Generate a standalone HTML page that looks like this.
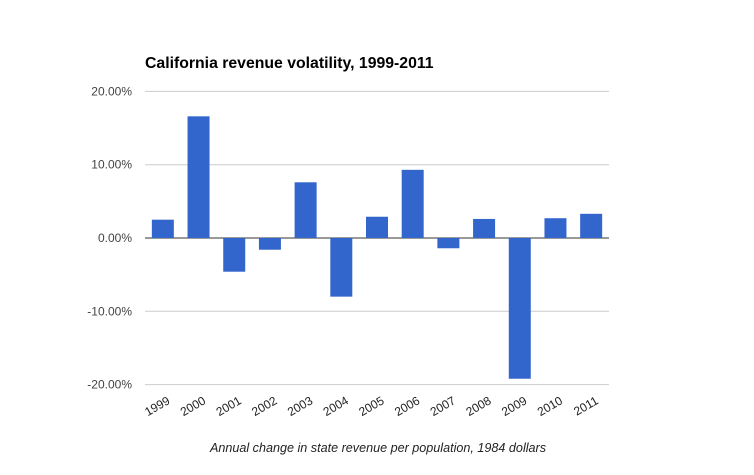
<!DOCTYPE html>
<html><head><meta charset="utf-8"><style>
body{margin:0;background:#fff;}
svg{display:block;font-family:"Liberation Sans",Arial,sans-serif;}
</style></head><body>
<svg id="chart" width="754" height="475">
<text x="145" y="68" font-size="15.8" font-weight="bold" fill="#000">California revenue volatility, 1999-2011</text>
<g id="grid"></g><g id="bars"></g><g id="xlabels"></g>
<text x="378" y="452" font-size="12.6" font-style="italic" text-anchor="middle" fill="#222">Annual change in state revenue per population, 1984 dollars</text>
</svg>
<script>
const categories=["1999","2000","2001","2002","2003","2004","2005","2006","2007","2008","2009","2010","2011"];
const values=[2.5,16.6,-4.6,-1.6,7.6,-8.0,2.9,9.3,-1.4,2.6,-19.2,2.7,3.3];
const ticks=[20,10,0,-10,-20];
const tickLabels=["20.00%","10.00%","0.00%","-10.00%","-20.00%"];
const NS="http://www.w3.org/2000/svg";
const left=145,right=609,slot=(right-left)/categories.length,bw=22;
const y=v=>238-v*7.33;
const x=i=>left+slot*i+slot/2;
const grid=document.getElementById('grid'),bars=document.getElementById('bars'),xl=document.getElementById('xlabels');
function mk(t,a,p){const e=document.createElementNS(NS,t);for(const k in a)e.setAttribute(k,a[k]);p.appendChild(e);return e;}
ticks.forEach((t,i)=>{
 const l=mk('line',{x1:left,x2:right,y1:y(t),y2:y(t),stroke:t===0?'#333':'#ccc','stroke-width':1},grid);
 
 
 const tx=mk('text',{x:132,y:y(t)+4,'font-size':12,'text-anchor':'end',fill:'#444'},grid);
 tx.textContent=tickLabels[i];
 
 
});
values.forEach((v,i)=>{
 const r=mk('rect',{x:x(i)-bw/2,y:Math.min(y(v),y(0)),width:bw,height:Math.abs(y(v)-y(0)),fill:'#3366cc'},bars);
 
 
 const tx=mk('text',{x:x(i)+8,y:403,'font-size':12,'text-anchor':'end',fill:'#222',transform:`rotate(-30 ${x(i)+8} 403)`},xl);
 tx.textContent=categories[i];
 
 
});
grid.appendChild(grid.children[4]);
</script>
</body></html>
